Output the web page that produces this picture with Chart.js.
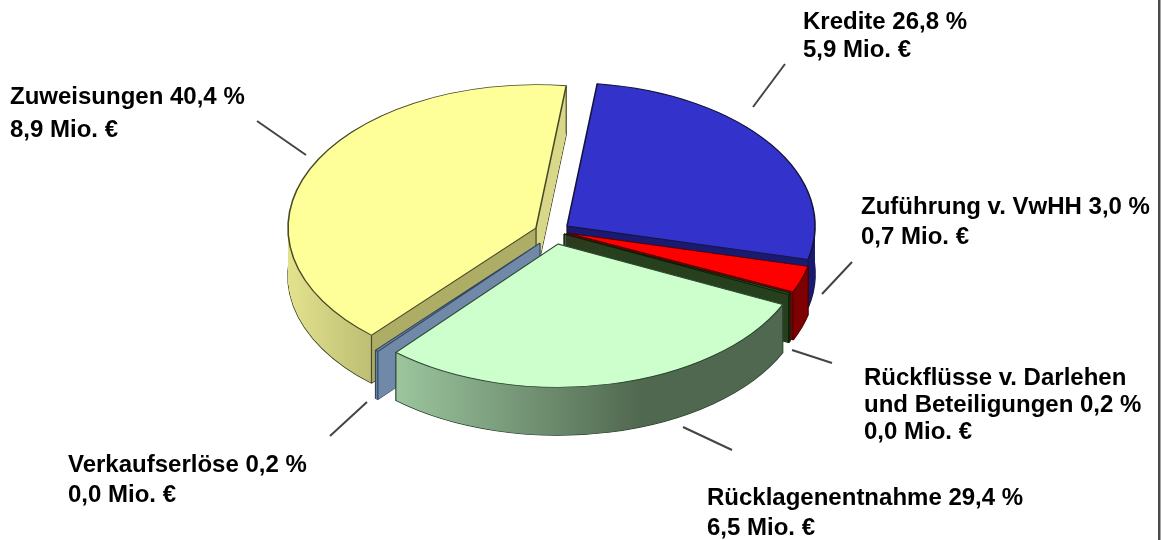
<!DOCTYPE html>
<html><head><meta charset="utf-8">
<style>html,body{margin:0;padding:0;background:#fff}canvas{display:block}</style>
<script src="https://cdn.jsdelivr.net/npm/chart.js@4"></script>
</head><body><canvas id="c" width="1163" height="540"></canvas>
<script>
const categories = ["Kredite","Zuführung v. VwHH","Rückflüsse v. Darlehen und Beteiligungen","Rücklagenentnahme","Verkaufserlöse","Zuweisungen"];
const percentValues = [26.8,3.0,0.2,29.4,0.2,40.4];
const millionValues = [5.9,0.7,0.0,6.5,0.0,8.9];
const topColors = ["#3333CC","#FF0000","#2C5420","#CCFFCC","#7089A8","#FFFF99"];
const edgeColors = ["#14143C","#500000","#0C1C08","#2C4630","#33465A","#4A4A28"];
const labelLines = [
 ["Kredite 26,8 %","5,9 Mio. €"],
 ["Zuführung v. VwHH 3,0 %","0,7 Mio. €"],
 ["Rückflüsse v. Darlehen","und Beteiligungen 0,2 %","0,0 Mio. €"],
 ["Rücklagenentnahme 29,4 %","6,5 Mio. €"],
 ["Verkaufserlöse 0,2 %","0,0 Mio. €"],
 ["Zuweisungen 40,4 %","8,9 Mio. €"]];
// layout/style constants
const labelBoxes = [[803,22,28],[861,207,30],[864,378,27],[707,498,30],[68,465,30],[10,97,33]];
const leaders = [[753,107,785,64],[852,262,822,294],[792,350,832,363],[683,427,732,450],[367,402,330,436],[257,121,306,155]];
const pieCenter = [554,235], tilt = 0.578, depth = 48, pieRadius = 248;
const explodeX = [13,13,10,4,-14,-18], explodeY = [-9,-2,-1,9,8,-7];
const paintOrder = [5,0,1,2,4,3];
const thinSlice = [false,false,true,false,true,false];
const wallStops = [
 [[288,"#1A1A70"],[1163,"#1A1A70"]],
 [[288,"#7E0000"],[1163,"#7E0000"]],
 [[288,"#26401E"],[1163,"#26401E"]],
 [[395,"#9CC69E"],[640,"#506850"],[1163,"#506850"]],
 [[288,"#7089A8"],[1163,"#7089A8"]],
 [[288,"#E2E28E"],[372,"#BEBE74"],[372.5,"#ADAD66"],[536.5,"#ADAD66"],[537,"#D8D888"],[1163,"#D8D888"]]];

const pie3d = {
  id:"pie3d",
  beforeDatasetsDraw(chart){
    const ctx = chart.ctx, arcs = chart.getDatasetMeta(0).data;
    const place = (arc,i,dy)=>{
      ctx.translate(pieCenter[0]+explodeX[i], pieCenter[1]+explodeY[i]+dy);
      ctx.scale(1,tilt);
      ctx.translate(-arc.x,-arc.y);
    };
    for(const i of paintOrder){
      const arc = arcs[i], base = arc.options;
      const lx = x => x-pieCenter[0]-explodeX[i]+arc.x;
      const g = ctx.createLinearGradient(lx(0),0,lx(1163),0);
      for(const [x,c] of wallStops[i]) g.addColorStop(x/1163,c);
      // bottom face with outline
      arc.options = Object.assign({},base,{backgroundColor:g,borderColor:edgeColors[i],borderWidth:1.6});
      ctx.save(); place(arc,i,depth); arc.draw(ctx); ctx.restore();
      // swept wall
      arc.options = Object.assign({},base,{backgroundColor:g,borderColor:g,borderWidth:thinSlice[i]?1.2:0});
      for(let d=depth-0.5;d>0;d-=0.5){ ctx.save(); place(arc,i,d); arc.draw(ctx); ctx.restore(); }
      // vertical edges at the corners
      ctx.save(); ctx.strokeStyle=edgeColors[i]; ctx.lineWidth=1.2;
      const sx=pieCenter[0]+explodeX[i], sy=pieCenter[1]+explodeY[i];
      const pts=[[sx,sy],[sx+Math.cos(arc.startAngle)*arc.outerRadius,sy+Math.sin(arc.startAngle)*arc.outerRadius*tilt],
                 [sx+Math.cos(arc.endAngle)*arc.outerRadius,sy+Math.sin(arc.endAngle)*arc.outerRadius*tilt]];
      for(const p of pts){ctx.beginPath();ctx.moveTo(p[0],p[1]);ctx.lineTo(p[0],p[1]+depth);ctx.stroke();}
      ctx.restore();
      // top face
      arc.options = Object.assign({},base,{borderColor:edgeColors[i],borderWidth:1.6});
      ctx.save(); place(arc,i,0); arc.draw(ctx); ctx.restore();
      arc.options = base;
    }
    return false;
  },
  afterDraw(chart){
    const ctx = chart.ctx;
    ctx.save();
    ctx.strokeStyle="#444"; ctx.lineWidth=2; ctx.lineCap="butt";
    for(const l of leaders){ctx.beginPath();ctx.moveTo(l[0],l[1]);ctx.lineTo(l[2],l[3]);ctx.stroke();}
    ctx.fillStyle="#4a4a4a"; ctx.fillRect(1158,0,2.5,540);
    ctx.fillStyle="#000"; ctx.font="bold 24px 'Liberation Sans', Arial, sans-serif"; ctx.textBaseline="middle";
    labelLines.forEach((lines,i)=>{
      const [x,y,h]=labelBoxes[i];
      lines.forEach((t,j)=>ctx.fillText(t,x,y+j*h));
    });
    ctx.restore();
  }
};

new Chart(document.getElementById("c"),{
  type:"pie",
  data:{labels:categories,datasets:[{data:percentValues,backgroundColor:topColors,borderWidth:0,radius:pieRadius}]},
  options:{responsive:false,animation:false,rotation:7,
    plugins:{legend:{display:false},tooltip:{enabled:false}},
    layout:{padding:0}},
  plugins:[pie3d]
});
</script></body></html>
